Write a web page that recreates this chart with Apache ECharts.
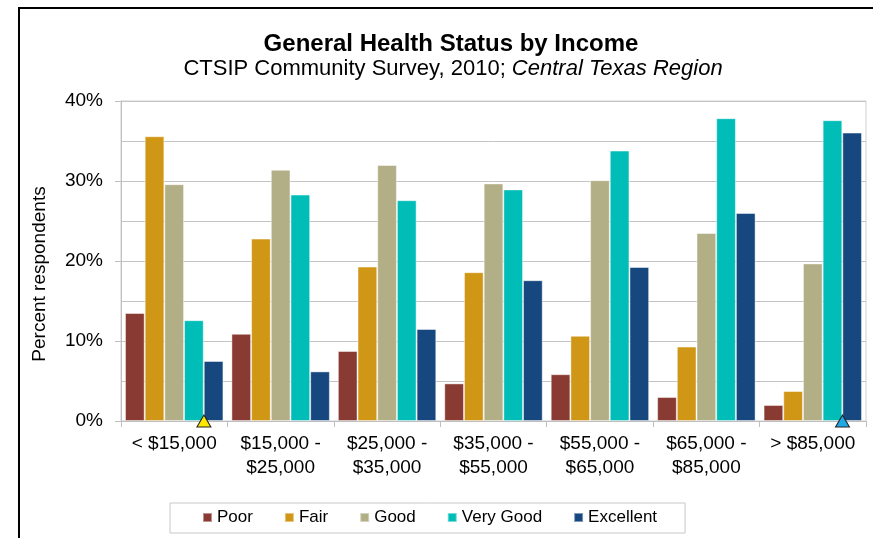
<!DOCTYPE html>
<html>
<head>
<meta charset="utf-8">
<script src="https://cdn.jsdelivr.net/npm/echarts@6/dist/echarts.min.js"></script>
<style>
  html, body { margin: 0; padding: 0; background: #fff; }
  #chart { width: 873px; height: 538px; }
</style>
</head>
<body>
<div id="chart"></div>
<script>
  // income groups
  const categories = ['< $15,000', '$15,000 -\n$25,000', '$25,000 -\n$35,000', '$35,000 -\n$55,000',
    '$55,000 -\n$65,000', '$65,000 -\n$85,000', '> $85,000'];

  // percent respondents per health status
  const poor = [13.5, 10.9, 8.75, 4.7, 5.85, 3.0, 2.0];
  const fair = [35.6, 22.8, 19.3, 18.6, 10.65, 9.3, 3.75];
  const good = [29.6, 31.4, 32.0, 29.7, 30.1, 23.5, 19.7];
  const veryGood = [12.6, 28.3, 27.6, 28.95, 33.8, 37.85, 37.6];
  const excellent = [7.5, 6.2, 11.5, 17.6, 19.25, 26.0, 36.05];

  const seriesNames = ['Poor', 'Fair', 'Good', 'Very Good', 'Excellent'];
  const seriesColors = ['#893a32', '#d09615', '#b2af87', '#00bdb8', '#16477e'];

  // triangle flags on the x axis
  const flagCats = [categories[0], categories[6]];
  const flagColors = ['#ffe800', '#1ea8e4'];

  const yTicks = [0, 10, 20, 30, 40];

  let chart = echarts.init(document.getElementById('chart'));

  const font = 'Liberation Sans, Arial, sans-serif';

  let series = [poor, fair, good, veryGood, excellent].map(function (vals, i) {
    let s = {
      name: seriesNames[i],
      type: 'bar',
      data: vals,
      barGap: '0%',
      barCategoryGap: '7.5%',
      itemStyle: {
        color: seriesColors[i],
        borderColor: 'rgba(255,255,255,0.45)',
        borderWidth: 1
      }
    };
    if (i === 3) {
      s.markPoint = {
        symbol: 'triangle',
        symbolSize: [14, 12],
        symbolOffset: [10, 0],
        label: {show: false},
        data: flagCats.map(function (c, k) {
          return {
            coord: [c, 0],
            itemStyle: {color: flagColors[k], borderColor: '#222', borderWidth: 1}
          };
        })
      };
    }
    return s;
  });

  let option = {
    animation: false,
    textStyle: {fontFamily: font},
    title: [{
      text: 'General Health Status by Income',
      left: 446,
      textAlign: 'center',
      top: 27,
      textStyle: {fontFamily: font, fontSize: 24, fontWeight: 'bold', color: '#000'}
    }, {
      text: '{n|CTSIP Community Survey, 2010; }{i|Central Texas Region}',
      left: 448,
      textAlign: 'center',
      top: 53,
      textStyle: {
        fontWeight: 'normal',
        rich: {
          n: {fontFamily: font, fontSize: 22, fontWeight: 'normal', color: '#000'},
          i: {fontFamily: font, fontSize: 22, fontWeight: 'normal', fontStyle: 'italic', color: '#000'}
        }
      }
    }],
    graphic: [{
      type: 'rect',
      shape: {x: 19, y: 8, width: 1000, height: 800},
      style: {fill: null, stroke: '#000', lineWidth: 2},
      silent: true
    }],
    legend: {
      data: seriesNames,
      left: 170,
      top: 503,
      padding: [6, 28, 7, 32],
      borderColor: '#c8c8c8',
      borderWidth: 1,
      itemWidth: 9,
      itemHeight: 9,
      itemGap: 31,
      icon: 'rect',
      textStyle: {fontFamily: font, fontSize: 17, color: '#000'}
    },
    grid: {
      left: 121,
      right: 7,
      top: 101,
      bottom: 117,
      show: true,
      borderColor: '#d0d0d0',
      borderWidth: 1
    },
    xAxis: {
      type: 'category',
      data: categories,
      axisLine: {lineStyle: {color: '#bfbfbf', width: 1}},
      axisTick: {show: true, length: 6, lineStyle: {color: '#bfbfbf'}},
      axisLabel: {
        interval: 0,
        margin: 11,
        fontFamily: font,
        fontSize: 19,
        lineHeight: 24,
        color: '#000'
      }
    },
    yAxis: {
      type: 'value',
      min: yTicks[0],
      max: yTicks[yTicks.length - 1],
      interval: yTicks[1] - yTicks[0],
      name: 'Percent respondents',
      nameLocation: 'middle',
      nameGap: 72,
      nameTextStyle: {fontFamily: font, fontSize: 19, color: '#000', padding: [0, 26, 0, 0]},
      axisLine: {show: true, lineStyle: {color: '#bfbfbf', width: 1}},
      axisTick: {show: true, length: 6, lineStyle: {color: '#bfbfbf'}},
      minorTick: {show: false, splitNumber: 2},
      splitLine: {lineStyle: {color: '#c4c4c4', width: 1}},
      minorSplitLine: {show: true, lineStyle: {color: '#c4c4c4', width: 1}},
      axisLabel: {
        margin: 18,
        fontFamily: font,
        fontSize: 19,
        color: '#000',
        formatter: '{value}%'
      }
    },
    series: series
  };

  chart.setOption(option);
</script>
</body>
</html>
